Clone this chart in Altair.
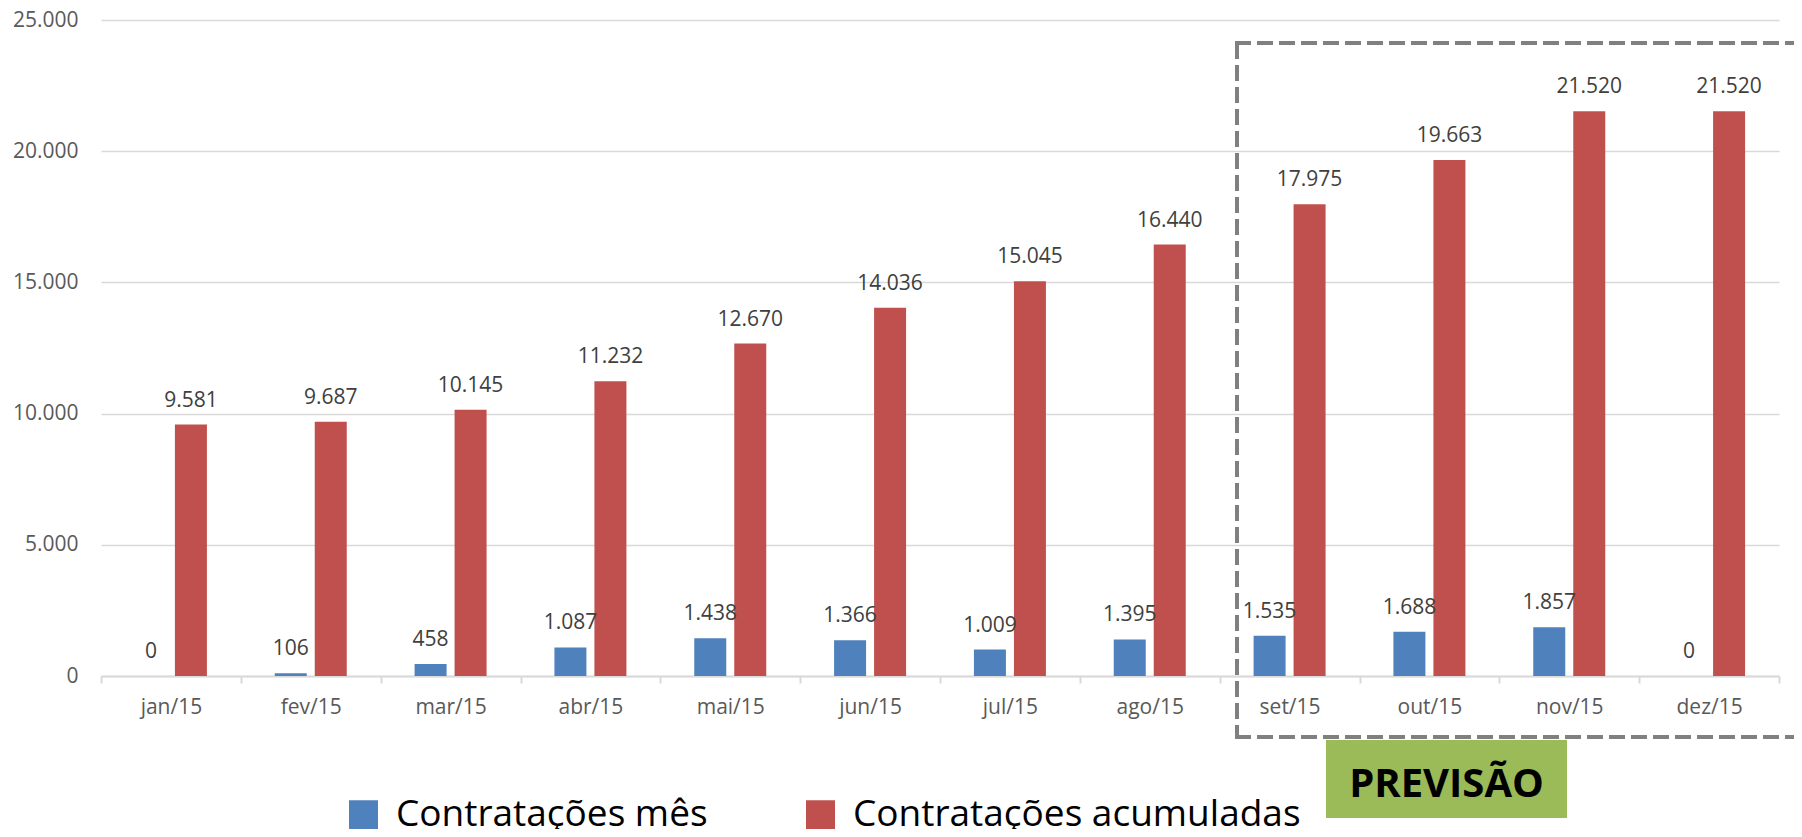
import altair as alt
import pandas as pd

months = ["jan/15", "fev/15", "mar/15", "abr/15", "mai/15", "jun/15",
          "jul/15", "ago/15", "set/15", "out/15", "nov/15", "dez/15"]
mes = [0, 106, 458, 1087, 1438, 1366, 1009, 1395, 1535, 1688, 1857, 0]
acum = [9581, 9687, 10145, 11232, 12670, 14036, 15045, 16440, 17975, 19663, 21520, 21520]
series = ["Contratações mês", "Contratações acumuladas"]
colors = ["#4f81bd", "#c0504d"]
y_ticks = [0, 5000, 10000, 15000, 20000, 25000]

rows = []
for m, a, b in zip(months, mes, acum):
    rows.append({"month": m, "serie": series[0], "value": a})
    rows.append({"month": m, "serie": series[1], "value": b})
df = pd.DataFrame(rows)
df["label"] = df["value"].map(lambda v: f"{v:,}".replace(",", "."))

FONT = "Open Sans"
W, H = 1678, 656

x_enc = alt.X(
    "month:N", sort=months,
    scale=alt.Scale(paddingInner=0, paddingOuter=0),
    axis=alt.Axis(title=None, labelAngle=0, tickBand="extent", grid=False,
                  domainColor="#d9d9d9", domainWidth=2, tickColor="#d9d9d9",
                  tickWidth=2, tickSize=7, labelFontSize=21, labelFont=FONT,
                  labelColor="#595959", labelPadding=13),
)
xoff = alt.XOffset("serie:N", sort=series,
                   scale=alt.Scale(paddingInner=0.2, paddingOuter=0.848))
y_enc = alt.Y(
    "value:Q", scale=alt.Scale(domain=[0, 25000]),
    axis=alt.Axis(values=y_ticks, title=None, grid=True, gridColor="#d9d9d9",
                  gridWidth=1.5, domain=False, ticks=False, labelPadding=23,
                  labelFontSize=21, labelFont=FONT, labelColor="#595959",
                  labelExpr="replace(format(datum.value, ','), ',', '.')"),
)

base = alt.Chart(df)

bars = base.mark_bar().encode(
    x=x_enc, xOffset=xoff, y=y_enc,
    color=alt.Color("serie:N", sort=series,
                    scale=alt.Scale(domain=series, range=colors),
                    legend=alt.Legend(orient="none", legendX=244, legendY=776,
                                      direction="horizontal", title=None,
                                      symbolType="square", symbolSize=841,
                                      symbolStrokeWidth=0, symbolOpacity=1,
                                      labelFontSize=37, labelFont=FONT,
                                      labelColor="#000000", labelLimit=800,
                                      labelOffset=14, columnPadding=94)),
)

labels = base.mark_text(baseline="alphabetic", dy=-18, fontSize=21,
                        font=FONT, color="#404040").encode(
    x=x_enc, xOffset=xoff, y=y_enc, text="label:N",
)

ann = pd.DataFrame({"label": ["PREVISÃO"]})
dash = dict(color="#808080", strokeWidth=4, strokeDash=[16, 6])
box_top = alt.Chart(ann).mark_rule(**dash).encode(
    x=alt.value(1134), x2=alt.value(1700), y=alt.value(23))
box_left = alt.Chart(ann).mark_rule(**dash).encode(
    x=alt.value(1136), y=alt.value(23), y2=alt.value(717))
box_bottom = alt.Chart(ann).mark_rule(**dash).encode(
    x=alt.value(1134), x2=alt.value(1700), y=alt.value(717))

green = alt.Chart(ann).mark_rect(color="#9bbb59").encode(
    x=alt.value(1225), x2=alt.value(1466),
    y=alt.value(720), y2=alt.value(798))

gtext = alt.Chart(ann).mark_text(
    font=FONT, fontSize=40, fontWeight="bold", color="#000000",
    baseline="alphabetic", align="center",
).encode(x=alt.value(1345.5), y=alt.value(777), text="label:N")

chart = alt.layer(bars, labels, box_top, box_left, box_bottom, green, gtext).properties(
    width=W, height=H,
    padding={"left": 93, "top": 12, "right": 15, "bottom": 153},
    autosize=alt.AutoSizeParams(type="none"),
).configure(font=FONT).configure_view(strokeWidth=0, stroke="transparent")

chart.save("out.html", embed_options={"renderer": "svg", "actions": False})
